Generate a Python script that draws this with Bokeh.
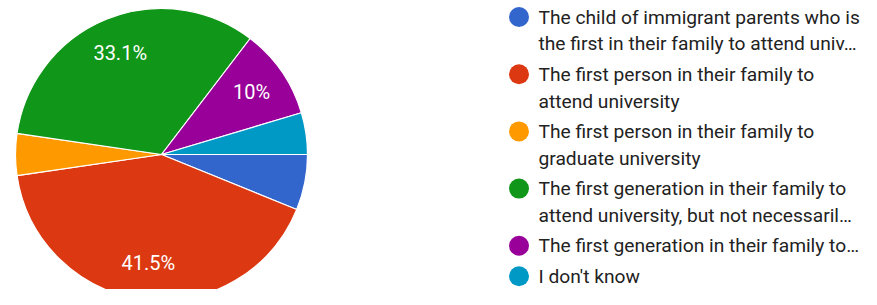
import numpy as np
from bokeh.plotting import figure
from bokeh.models import ColumnDataSource
from bokeh.core.properties import value
from bokeh.embed import file_html
from bokeh.resources import INLINE

# ---- data ----
legend_lines = [
    ["The child of immigrant parents who is", "the first in their family to attend univ…"],
    ["The first person in their family to", "attend university"],
    ["The first person in their family to", "graduate university"],
    ["The first generation in their family to", "attend university, but not necessaril…"],
    ["The first generation in their family to…"],
    ["I don't know"],
]
counts = [8, 54, 6, 43, 13, 6]
colors = ["#3366cc", "#dc3912", "#ff9900", "#109618", "#990099", "#0099c6"]

W, H = 861, 289
FONT = "Roboto"

p = figure(width=W, height=H, x_range=(0, W), y_range=(0, H),
           output_backend="svg", toolbar_location=None, min_border=0)
p.axis.visible = False
p.grid.visible = False
p.outline_line_color = None
p.background_fill_color = "white"
p.border_fill_color = "white"

def Y(top):  # distance from top -> data y
    return H - top

# ---- pie ----
cx, cy, R = 161.0, Y(154.0), 146.0
vals = np.array(counts, dtype=float)
frac = vals / vals.sum()
cum_end = np.cumsum(frac)
cum_start = cum_end - frac
# clockwise from 3 o'clock
start = -cum_end * 2 * np.pi
end = -cum_start * 2 * np.pi
src = ColumnDataSource(dict(start=start, end=end, color=colors))
p.wedge(x=cx, y=cy, radius=R, start_angle="start", end_angle="end",
        fill_color="color", line_color="white", line_width=1.2, source=src)

pct = frac * 100
mid = (start + end) / 2
lab_x, lab_y, lab_t = [], [], []
for a, v in zip(mid, pct):
    if v >= 8:
        rr = 0.75 * R
        lab_x.append(cx + rr * np.cos(a))
        lab_y.append(cy + rr * np.sin(a))
        s = f"{v:.1f}"
        if s.endswith(".0"):
            s = s[:-2]
        lab_t.append(s + "%")
p.text(x=lab_x, y=lab_y, text=lab_t, text_color="white",
       text_font=value(FONT), text_font_size="20px",
       text_align="center", text_baseline="middle")

# ---- legend ----
dot_x, text_x = 518.5, 538.0
y = 16.5
line_h = 26.8
dots_y, tx, ty, tt = [], [], [], []
for lines in legend_lines:
    dots_y.append(Y(y))
    for k, ln in enumerate(lines):
        tx.append(text_x)
        ty.append(Y(y + k * line_h))
        tt.append(ln)
    y += len(lines) * line_h + 3.6
p.scatter(x=[dot_x] * len(dots_y), y=dots_y, size=20, marker="circle",
          fill_color=colors, line_color=None)
p.text(x=tx, y=ty, text=tt, text_color="#222222", text_font=value(FONT),
       text_font_size="19.2px", text_align="left", text_baseline="middle")

open("out.html", "w").write(file_html(p, INLINE))
